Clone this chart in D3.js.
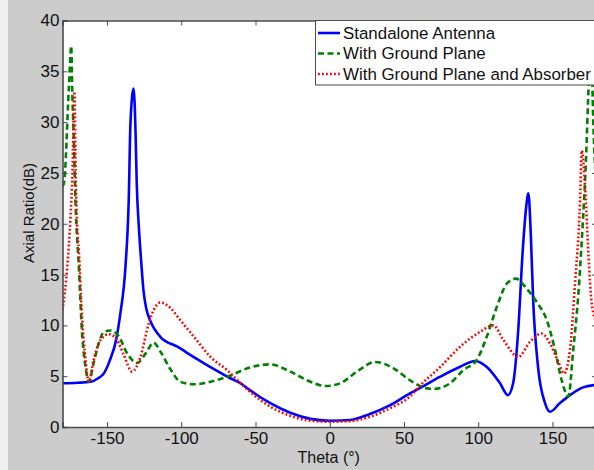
<!DOCTYPE html>
<html>
<head>
<meta charset="utf-8">
<script src="https://cdn.jsdelivr.net/npm/d3@7/dist/d3.min.js"></script>
<style>
  html, body { margin: 0; padding: 0; background: #cccccc; }
  svg { display: block; }
  text { font-family: "Liberation Sans", Arial, sans-serif; fill: #111; }
</style>
</head>
<body>
<svg id="chart" width="594" height="470"></svg>
<script>
// ---- Data ----
const seriesNames = ["Standalone Antenna", "With Ground Plane", "With Ground Plane and Absorber"];

const standaloneTheta = [-180, -170, -161, -156, -152, -148, -144, -141, -137.6, -135.4, -134.2, -132.1, -130.8, -130, -128.5, -127, -125.5, -123.5, -121, -114, -102.6, -91.8, -80.4, -67, -60, -53.5, -40, -26.6, -13, 0, 13.8, 27, 40.7, 54, 61, 74.4, 87.8, 97.9, 105.8, 114.7, 120, 123.5, 126.8, 130, 132.2, 133.8, 135.4, 137, 140.3, 145, 148.4, 155, 161.8, 170.6, 180];
const standaloneAR    = [4.3, 4.35, 4.45, 4.8, 5.3, 6.6, 8.5, 11.2, 15.75, 22.3, 30, 33.3, 29, 24, 19.5, 16.3, 13.5, 11.6, 10.5, 8.85, 7.9, 6.9, 5.9, 4.8, 4.3, 3.6, 2.35, 1.4, 0.8, 0.62, 0.69, 1.28, 2.16, 3.3, 3.85, 4.95, 5.93, 6.5, 5.9, 4.3, 3.14, 4.3, 9.2, 17.4, 21.5, 23.0, 19, 12.5, 5.9, 2.35, 1.5, 2.35, 3.14, 3.9, 4.15];

const groundTheta = [-180, -179, -175.7, -174.1, -173.5, -172.4, -171.3, -169, -166.8, -164.5, -162.3, -159, -155.6, -152, -147.7, -142, -136.5, -129.7, -124, -118.6, -114, -107, -100.6, -91.8, -80.4, -69, -53.5, -40, -26.6, -13, -3, 7, 18.3, 30.6, 43, 54, 65.4, 70, 81, 90, 99, 105.8, 112.5, 119.2, 125.3, 132.7, 139.4, 146.2, 151.7, 156.2, 160.7, 164, 167.4, 170, 172.5, 174.5, 176, 177.5, 180];
const groundAR    = [23.7, 24, 33.4, 37.5, 33.4, 28.5, 22.3, 15.75, 9.2, 5.9, 4.45, 6.3, 8.25, 9.37, 9.5, 8.9, 7.25, 6.3, 7.25, 8.3, 7.4, 5.6, 4.45, 4.2, 4.45, 4.95, 5.87, 6.16, 5.45, 4.45, 4.03, 4.3, 5.45, 6.4, 5.77, 4.6, 3.8, 3.75, 4.3, 5.6, 6.6, 8.9, 11.8, 14.1, 14.6, 13.6, 12.3, 10.5, 7.6, 4.6, 3.0, 7.6, 13, 19, 26, 34, 38, 30, 22];

const absorberTheta = [-180, -176.8, -174.6, -173.3, -172, -171, -170.2, -169, -166.8, -164.5, -162.3, -159, -154.4, -148.8, -143.2, -138.7, -133.1, -127.5, -121.9, -118.6, -114, -107.3, -100.6, -91.6, -80.4, -69.2, -60, -53.5, -40, -26.6, -13, 0, 13.8, 27, 40.7, 54, 60.9, 74.4, 87.8, 101.3, 110.2, 117, 127, 135, 142.8, 148.4, 154, 157.8, 161.8, 165.2, 168.6, 169.7, 172, 174.2, 176.4, 177.5, 180];
const absorberAR    = [11.5, 15.75, 20.7, 25, 33, 24, 20, 17.4, 10.8, 6.6, 4.45, 6.6, 8.55, 9.14, 8.55, 7.08, 5.45, 6.9, 10.2, 11.5, 12.25, 11.7, 10.5, 8.9, 6.9, 5.6, 4.3, 3.44, 2.0, 1.1, 0.62, 0.52, 0.58, 1.0, 1.86, 3.0, 4.1, 5.9, 7.9, 9.37, 10.0, 8.55, 6.9, 8.4, 9.2, 8.2, 6.4, 5.27, 7.6, 14.1, 22.3, 27.2, 23.6, 17, 12.2, 11.2, 10.3];

const xTicks = [-150, -100, -50, 0, 50, 100, 150];
const yTicks = [0, 5, 10, 15, 20, 25, 30, 35, 40];
const xLabel = "Theta (\u00B0)";
const yLabel = "Axial Ratio(dB)";

// ---- Layout ----
const svg = d3.select("#chart");
const W = 594, H = 470;
const plot = { left: 62.5, right: 597, top: 20.5, bottom: 427 };

svg.append("rect").attr("x", 0).attr("y", 0).attr("width", W).attr("height", H).attr("fill", "#cccccc");
svg.append("rect").attr("x", 0).attr("y", 0).attr("width", 8).attr("height", H).attr("fill", "#efefef");

const x = d3.scaleLinear().domain([-180, 180]).range([plot.left, plot.right]);
const y = d3.scaleLinear().domain([0, 40]).range([plot.bottom, plot.top]);

svg.append("rect")
  .attr("x", plot.left).attr("y", plot.top)
  .attr("width", plot.right - plot.left).attr("height", plot.bottom - plot.top)
  .attr("fill", "#ffffff");

svg.append("clipPath").attr("id", "clip")
  .append("rect")
  .attr("x", plot.left).attr("y", plot.top)
  .attr("width", plot.right - plot.left).attr("height", plot.bottom - plot.top);

// ---- Curves ----
const series = [
  { name: seriesNames[0], theta: standaloneTheta, ar: standaloneAR, color: "#0000ff", dash: null, width: 2.6 },
  { name: seriesNames[1], theta: groundTheta, ar: groundAR, color: "#008000", dash: "6,3.5", width: 2.6 },
  { name: seriesNames[2], theta: absorberTheta, ar: absorberAR, color: "#ff0000", dash: "1.8,2.2", width: 2.6 }
];

const line = d3.line()
  .x(d => x(d[0]))
  .y(d => y(d[1]))
  .curve(d3.curveMonotoneX);

const g = svg.append("g").attr("clip-path", "url(#clip)");
series.forEach(s => {
  const pts = s.theta.map((t, i) => [t, s.ar[i]]);
  g.append("path")
    .datum(pts)
    .attr("d", line)
    .attr("fill", "none")
    .attr("stroke", s.color)
    .attr("stroke-width", s.width)
    .attr("stroke-dasharray", s.dash)
    .attr("stroke-linejoin", "round");
});

// ---- Axes (box style, inward ticks) ----
const axisColor = "#4a4a4a";
const fontSize = "17px";

const xAxis = svg.append("g").attr("transform", `translate(0,${plot.bottom})`)
  .call(d3.axisBottom(x).tickValues(xTicks).tickSize(-5).tickPadding(5).tickFormat(d3.format("d")));
const xAxisTop = svg.append("g").attr("transform", `translate(0,${plot.top})`)
  .call(d3.axisTop(x).tickValues(xTicks).tickSize(-5).tickFormat(""));
const yAxis = svg.append("g").attr("transform", `translate(${plot.left},0)`)
  .call(d3.axisLeft(y).tickValues(yTicks).tickSize(-5).tickPadding(3).tickFormat(d3.format("d")));
const yAxisRight = svg.append("g").attr("transform", `translate(${plot.right},0)`)
  .call(d3.axisRight(y).tickValues(yTicks).tickSize(-5).tickFormat(""));

[xAxis, xAxisTop, yAxis, yAxisRight].forEach(a => {
  a.select(".domain").attr("stroke", axisColor).attr("stroke-width", 1.6);
  a.selectAll(".tick line").attr("stroke", axisColor).attr("stroke-width", 1);
  a.selectAll(".tick text").attr("fill", "#111").style("font-size", fontSize)
    .style("font-family", "'Liberation Sans', Arial, sans-serif");
});
xAxis.selectAll(".tick text").text(d => d < 0 ? "-" + Math.abs(d) : d);

svg.append("text")
  .attr("x", (x(-180) + x(180)) / 2 - 1)
  .attr("y", 462.5)
  .attr("text-anchor", "middle")
  .style("font-size", "16px")
  .text(xLabel);

svg.append("text")
  .attr("transform", `translate(34,213) rotate(-90)`)
  .attr("text-anchor", "middle")
  .style("font-size", "15px")
  .text(yLabel);

// ---- Legend ----
const lg = svg.append("g");
lg.append("rect")
  .attr("x", 315.5).attr("y", plot.top)
  .attr("width", 300).attr("height", 64.5)
  .attr("fill", "#ffffff")
  .attr("stroke", axisColor).attr("stroke-width", 1);
const legendRows = [33, 53.5, 74];
series.forEach((s, i) => {
  lg.append("line")
    .attr("x1", 318).attr("x2", 340)
    .attr("y1", legendRows[i]).attr("y2", legendRows[i])
    .attr("stroke", s.color).attr("stroke-width", s.width)
    .attr("stroke-dasharray", s.dash);
  lg.append("text")
    .attr("x", 343).attr("y", legendRows[i])
    .attr("dy", "0.35em")
    .style("font-size", "16.9px")
    .text(s.name);
});
</script>
</body>
</html>
